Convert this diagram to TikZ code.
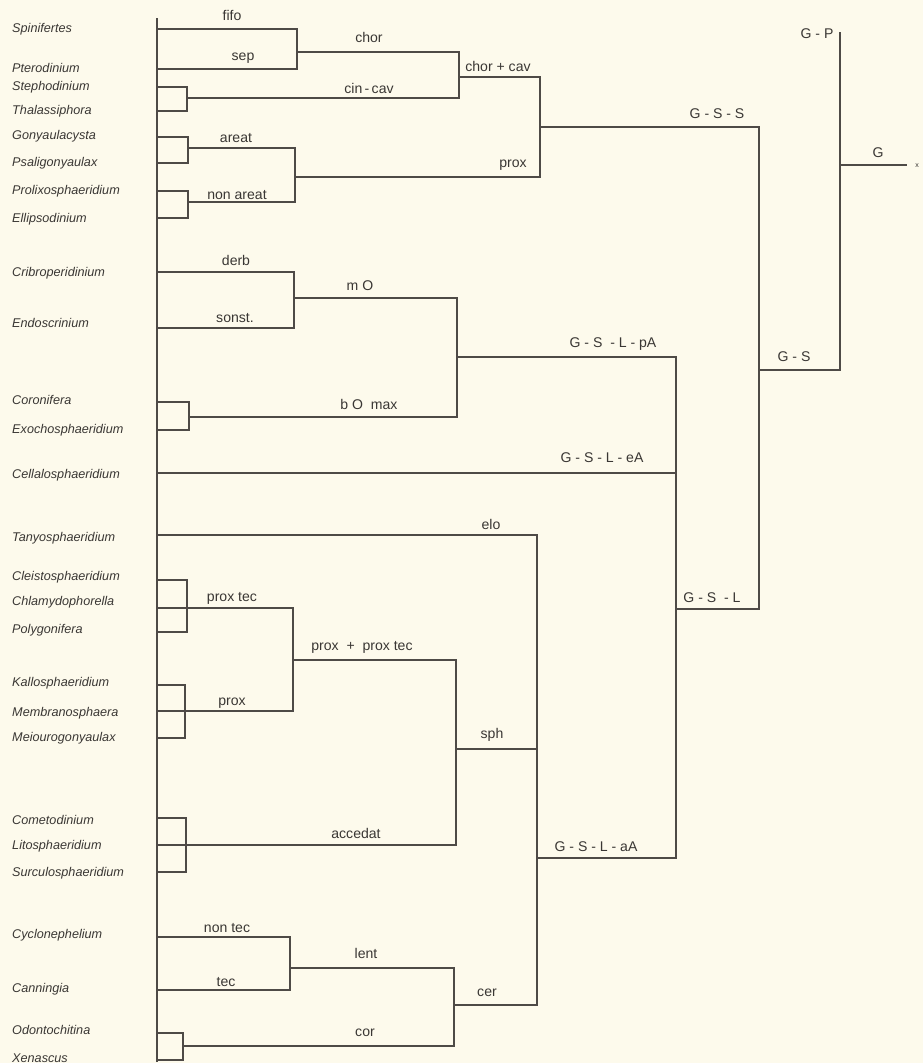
\documentclass[tikz,border=0pt]{standalone}
\usepackage{fontspec}
\newfontfamily\labfont{Liberation Sans}
\usepackage{xcolor}
\usepackage{tikz}

\definecolor{paper}{RGB}{253,250,236}
\definecolor{ink}{RGB}{78,74,70}
\definecolor{textink}{RGB}{58,55,52}
\tikzset{
  taxon/.style={anchor=west, inner sep=0pt, text=textink, font=\labfont\itshape\fontsize{10.8}{12}\selectfont},
  clade/.style={inner sep=0pt, text=textink, font=\labfont\fontsize{12}{14}\selectfont},
  branch/.style={draw=ink, line width=1.2pt},
  trunk/.style={draw=ink, line width=1.8pt},
}

\begin{document}
\begin{tikzpicture}[x=0.03cm, y=-0.03cm]
\fill[paper] (0,0) rectangle (923,1063);
\useasboundingbox (0,0) rectangle (923,1063);

% genera
\node[taxon] (spin) at (12,29) {Spinifertes};
\node[taxon] (pter) at (12,68) {Pterodinium};
\node[taxon] (step) at (12,87) {Stephodinium};
\node[taxon] (thal) at (12,111) {Thalassiphora};
\node[taxon] (gony) at (12,136) {Gonyaulacysta};
\node[taxon] (psal) at (12,163) {Psaligonyaulax};
\node[taxon] (prol) at (12,191) {Prolixosphaeridium};
\node[taxon] (elli) at (12,219) {Ellipsodinium};
\node[taxon] (crib) at (12,273) {Cribroperidinium};
\node[taxon] (endo) at (12,323) {Endoscrinium};
\node[taxon] (coro) at (12,400) {Coronifera};
\node[taxon] (exoc) at (12,430) {Exochosphaeridium};
\node[taxon] (cell) at (12,475) {Cellalosphaeridium};
\node[taxon] (tany) at (12,538) {Tanyosphaeridium};
\node[taxon] (clei) at (12,577) {Cleistosphaeridium};
\node[taxon] (chla) at (12,602) {Chlamydophorella};
\node[taxon] (poly) at (12,630) {Polygonifera};
\node[taxon] (kall) at (12,683) {Kallosphaeridium};
\node[taxon] (memb) at (12,713) {Membranosphaera};
\node[taxon] (meio) at (12,738) {Meiourogonyaulax};
\node[taxon] (come) at (12,820) {Cometodinium};
\node[taxon] (lito) at (12,846) {Litosphaeridium};
\node[taxon] (surc) at (12,873) {Surculosphaeridium};
\node[taxon] (cycl) at (12,935) {Cyclonephelium};
\node[taxon] (cann) at (12,989) {Canningia};
\node[taxon] (odon) at (12,1030) {Odontochitina};
\node[taxon] (xena) at (12,1058) {Xenascus};

% leaf ends on the trunk
\coordinate (lspin) at (157,29);
\coordinate (lpter) at (157,69);
\coordinate (lstep) at (157,87);
\coordinate (lthal) at (157,111);
\coordinate (lgony) at (157,137);
\coordinate (lpsal) at (157,163);
\coordinate (lprol) at (157,191);
\coordinate (lelli) at (157,218);
\coordinate (lcrib) at (157,272);
\coordinate (lendo) at (157,328);
\coordinate (lcoro) at (157,402);
\coordinate (lexoc) at (157,430);
\coordinate (lcell) at (157,473);
\coordinate (ltany) at (157,535);
\coordinate (lclei) at (157,580);
\coordinate (lchla) at (157,608);
\coordinate (lpoly) at (157,632);
\coordinate (lkall) at (157,685);
\coordinate (lmemb) at (157,711);
\coordinate (lmeio) at (157,738);
\coordinate (lcome) at (157,818);
\coordinate (llito) at (157,845);
\coordinate (lsurc) at (157,872);
\coordinate (lcycl) at (157,937);
\coordinate (lcann) at (157,990);
\coordinate (lodon) at (157,1033);
\coordinate (lxena) at (157,1060);
\coordinate (ttop) at (157,18);
\coordinate (tbot) at (157,1062);

% junctions
\coordinate (jfs) at (297,52);
\coordinate (jst) at (187,98);
\coordinate (jcc) at (459,77);
\coordinate (jgp) at (188,148);
\coordinate (jpe) at (188,202);
\coordinate (jar) at (295,177);
\coordinate (jprox) at (540,127);
\coordinate (jds) at (294,298);
\coordinate (jce) at (189,417);
\coordinate (jmo) at (457,357);
\coordinate (jcp) at (187,608);
\coordinate (jkm) at (185,711);
\coordinate (jppt) at (293,660);
\coordinate (jcls) at (186,845);
\coordinate (jsph) at (456,749);
\coordinate (jct) at (290,968);
\coordinate (jox) at (183,1046);
\coordinate (jlc) at (454,1005);
\coordinate (jelo) at (537,858);
\coordinate (jgsl) at (676,609);
\coordinate (jgs) at (759,370);
\coordinate (jg) at (840,165);
\coordinate (gp) at (840,32);
\coordinate (gend) at (907,165);

\path[trunk] (ttop) -- (tbot);

% G-S-S
\path[branch] (lspin) -| (jfs);
\path[branch] (lpter) -| (jfs);
\path[branch] (lstep) -| (jst) |- (lthal);
\path[branch] (jfs) -| (jcc);
\path[branch] (jst) -| (jcc);
\path[branch] (lgony) -| (jgp) |- (lpsal);
\path[branch] (lprol) -| (jpe) |- (lelli);
\path[branch] (jgp) -| (jar);
\path[branch] (jpe) -| (jar);
\path[branch] (jcc) -| (jprox);
\path[branch] (jar) -| (jprox);

% G-S-L
\path[branch] (lcrib) -| (jds);
\path[branch] (lendo) -| (jds);
\path[branch] (lcoro) -| (jce) |- (lexoc);
\path[branch] (jds) -| (jmo);
\path[branch] (jce) -| (jmo);
\path[branch] (lclei) -| (jcp) |- (lpoly);
\path[branch] (lchla) -- (jcp);
\path[branch] (lkall) -| (jkm) |- (lmeio);
\path[branch] (lmemb) -- (jkm);
\path[branch] (jcp) -| (jppt);
\path[branch] (jkm) -| (jppt);
\path[branch] (lcome) -| (jcls) |- (lsurc);
\path[branch] (llito) -- (jcls);
\path[branch] (jppt) -| (jsph);
\path[branch] (jcls) -| (jsph);
\path[branch] (lcycl) -| (jct);
\path[branch] (lcann) -| (jct);
\path[branch] (lodon) -| (jox) |- (lxena);
\path[branch] (jct) -| (jlc);
\path[branch] (jox) -| (jlc);
\path[branch] (ltany) -| (jelo);
\path[branch] (jsph) -| (jelo);
\path[branch] (jlc) -| (jelo);
\path[branch] (jmo) -| (jgsl);
\path[branch] (lcell) -| (jgsl);
\path[branch] (jelo) -| (jgsl);

% root
\path[branch] (jprox) -| (jgs);
\path[branch] (jgsl) -| (jgs);
\path[branch] (jgs) -| (gp);
\path[branch] (jg) -- (gend);

% branch labels
\node[clade] (fifo) at (232,15) {fifo};
\node[clade] (sep) at (243,58) {sep};
\node[clade] (chor) at (369,37) {chor};
\node[clade] (cincav) at (369,88) {cin\,-\,cav};
\node[clade] (chorcav) at (498,66) {chor + cav};
\node[clade] (areat) at (236,138) {areat};
\node[clade] (nonareat) at (237,195) {non areat};
\node[clade] (prox) at (513,165) {prox};
\node[clade] (gss) at (717,114) {G - S - S};
\node[clade] (gpl) at (817,34) {G - P};
\node[clade] (gl) at (878,153) {G};
\node[clade, font=\labfont\fontsize{6}{7}\selectfont] (xl) at (917,166) {x};
\node[clade] (gsl0) at (794,357) {G - S};
\node[clade] (derb) at (236,260) {derb};
\node[clade] (sonst) at (235,318) {sonst.};
\node[clade] (mo) at (360,286) {m O};
\node[clade] (bomax) at (369,404) {b O\ \ max};
\node[clade] (gslpa) at (613,344) {G - S \ - L - pA};
\node[clade] (gslea) at (602,458) {G - S - L - eA};
\node[clade] (gsl) at (712,598) {G - S \ - L};
\node[clade] (elo) at (491,524) {elo};
\node[clade] (proxtec) at (232,598) {prox tec};
\node[clade] (prox2) at (232,703) {prox};
\node[clade] (ppt) at (362,647) {prox \ + \ prox tec};
\node[clade] (accedat) at (356,833) {accedat};
\node[clade] (sph) at (492,735) {sph};
\node[clade] (gslaa) at (596,847) {G - S - L - aA};
\node[clade] (nontec) at (227,928) {non tec};
\node[clade] (tec) at (226,982) {tec};
\node[clade] (lent) at (366,953) {lent};
\node[clade] (cor) at (365,1033) {cor};
\node[clade] (cer) at (487,993) {cer};
\end{tikzpicture}
\end{document}
